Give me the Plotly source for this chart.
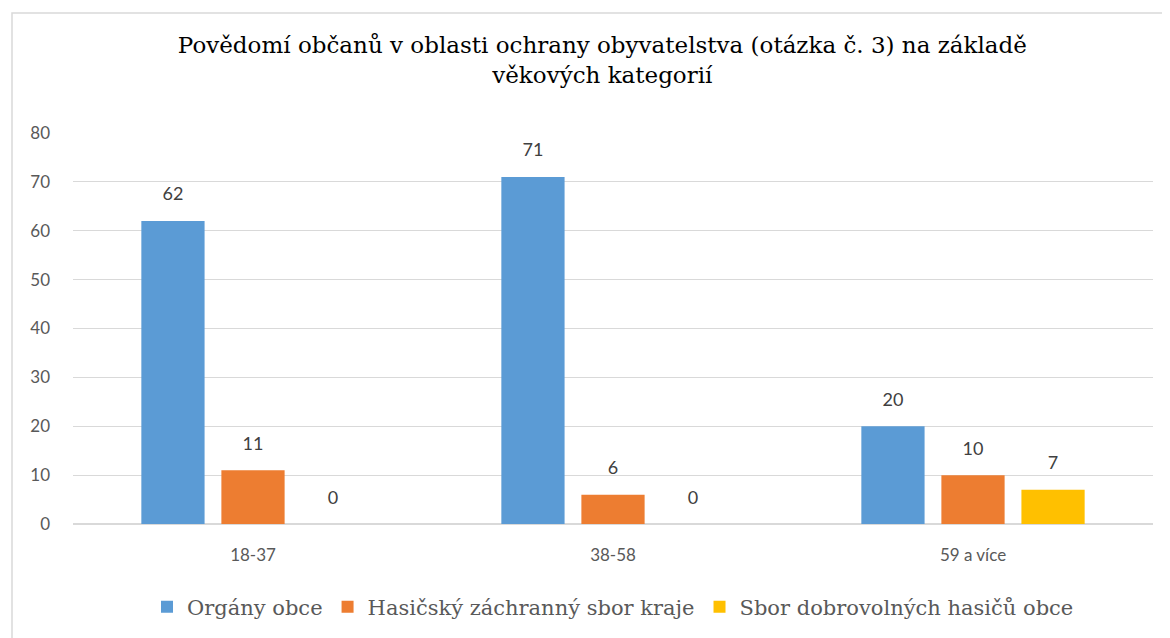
import plotly.graph_objects as go

categories = ["18-37", "38-58", "59 a více"]
series_names = ["Orgány obce", "Hasičský záchranný sbor kraje", "Sbor dobrovolných hasičů obce"]
organy_obce = [62, 71, 20]
hzs_kraje = [11, 6, 10]
sdh_obce = [0, 0, 7]
colors = ["#5B9BD5", "#ED7D31", "#FFC000"]
y_ticks = [0, 10, 20, 30, 40, 50, 60, 70, 80]

SERIF = "DejaVu Serif"
SANS = "Lato"

fig = go.Figure()
for i, (name, vals, col) in enumerate(zip(series_names, [organy_obce, hzs_kraje, sdh_obce], colors)):
    fig.add_trace(go.Bar(
        x=categories, y=vals, name=name,
        marker=dict(color=col, line=dict(width=0)),
        offsetgroup=str(i),
    ))
for i, vals in enumerate([organy_obce, hzs_kraje, sdh_obce]):
    fig.add_trace(go.Scatter(
        x=categories, y=vals, mode="markers+text",
        marker=dict(size=24, color="rgba(0,0,0,0)"),
        text=[str(v) for v in vals], textposition="top center",
        textfont=dict(family=SANS, size=18, color="#404040"),
        offsetgroup=str(i), showlegend=False, hoverinfo="skip", cliponaxis=False,
    ))

fig.update_layout(
    width=1170, height=638,
    paper_bgcolor="white", plot_bgcolor="white",
    margin=dict(l=65, r=25, t=125, b=122),
    barmode="group", bargap=0.333, bargroupgap=0.21,
    scattermode="group", scattergap=0.333,
    title=dict(
        text="Povědomí občanů v oblasti ochrany obyvatelstva (otázka č. 3) na základě<br>věkových kategorií",
        x=0.508, xanchor="center", y=0.93, yanchor="top",
        font=dict(family=SERIF, size=23, color="#000000"),
    ),
    xaxis=dict(
        showgrid=False, showline=False, ticks="",
        tickfont=dict(family=SANS, size=17, color="#595959"),
        ticklabelstandoff=19,
    ),
    yaxis=dict(
        range=[0, 80], tickvals=y_ticks, showgrid=True, gridcolor="#D9D9D9", gridwidth=1,
        zeroline=True, zerolinecolor="#D9D9D9", zerolinewidth=2,
        showline=False, ticks="",
        tickfont=dict(family=SANS, size=17, color="#595959"),
        ticklabelstandoff=22,
    ),
    legend=dict(
        orientation="h", x=0.5, xanchor="center", y=-0.16, yanchor="top",
        font=dict(family=SERIF, size=21, color="#595959"),
        itemwidth=30, traceorder="normal",
    ),
    showlegend=True,
)

fig.add_shape(type="rect", xref="paper", yref="paper",
              x0=(4 - 65) / 1080, x1=1.2, y0=-0.5, y1=(516 - 5) / 391,
              line=dict(color="#D9D9D9", width=1.5), fillcolor="rgba(0,0,0,0)", layer="below")

fig.write_html("out.html")
